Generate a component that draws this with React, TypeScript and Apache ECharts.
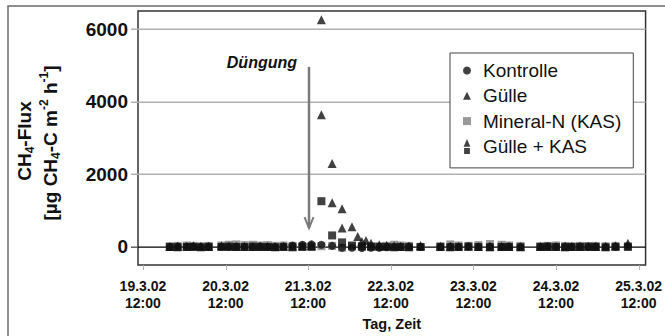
import { useEffect, useRef } from 'react';
import * as echarts from 'echarts';

// x values are days counted from 19.3.02 12:00
const xTickDays = [0, 1, 2, 3, 4, 5, 6];
const xTickLabels = ['19.3.02\n12:00', '20.3.02\n12:00', '21.3.02\n12:00', '22.3.02\n12:00', '23.3.02\n12:00', '24.3.02\n12:00', '25.3.02\n12:00'];
const yTicks = [0, 2000, 4000, 6000];

const times = [
  0.325, 0.42, 0.53, 0.61, 0.7, 0.795, 0.95, 1.04, 1.13, 1.23, 1.33, 1.42, 1.51, 1.6, 1.7, 1.81, 1.93,
  2.04, 2.16, 2.29, 2.41, 2.53, 2.65, 2.76, 2.86, 2.95, 3.04, 3.12, 3.22, 3.36, 3.6, 3.72, 3.82, 3.94,
  4.06, 4.2, 4.34, 4.43, 4.57, 4.81, 4.9, 5.0, 5.11, 5.19, 5.29, 5.39, 5.48, 5.6, 5.72, 5.87,
];

const kontrolle = [
  0, 10, 5, 10, 0, 10, 5, 0, 10, 5, 0, 10, 5, 0, 10, 40, 60,
  70, 60, 30, -20, -20, -30, -20, -20, -10, 0, 0, 10, 0, 0, 10, 0, 10,
  0, 10, 0, 10, 0, 0, 10, 0, 10, 0, 10, 0, 10, 0, 10, 20,
];

const guelle = [
  10, 20, 20, 30, 20, 10, 30, 20, 10, 20, 10, 20, 20, 10, 20, 20, 30,
  40, 3640, 2300, 1050, 555, 150, 100, 60, 50, 30, 20, 20, 40, 20, 10, 20, 20,
  10, 10, 20, 10, 10, 20, 10, 20, 10, 20, 10, 20, 10, 20, 30, 100,
];
// second Gülle readings at the same sampling times
const guelleReplicates: [number, number][] = [
  [2.16, 6260], [2.29, 1220], [2.41, 520], [2.6, 290], [2.7, 180],
];

const mineral = [
  20, 30, 40, 30, 20, 30, 40, 60, 70, 50, 60, 40, 50, 30, 40, 30, 20,
  30, 20, 30, -20, 10, 0, 10, 20, 30, 60, 40, 30, 0, 20, 70, 40, 30,
  50, 80, 60, 40, 30, 20, 30, 40, 30, 20, 30, 20, 30, 20, 30, 20,
];

const guelleKas = [
  0, -10, 0, 0, -10, 0, 0, 10, 0, 0, 10, 0, 0, -10, 0, -10, 0,
  0, 1260, 317, 125, 40, 20, 10, 0, 0, -10, 0, -10, 0, 0, -10, 0, 10,
  0, -10, 0, 0, -10, 0, 10, 0, -10, 0, 0, 10, 0, -10, 0, 0,
];

// fertilisation arrow (data coordinates)
const arrowDay = 2.01;
const arrowTop = 4960;
const arrowTip = 520;

const X_MIN = -0.06;
const X_MAX = 6.084;

const FONT = '"Liberation Sans", Arial, sans-serif';
const BLACK = '#111111';
const GRAY = '#808080';

function pairs(vals: number[]): [number, number][] {
  return vals.map((v, i) => [times[i], v]);
}

export default function App() {
  const ref = useRef<HTMLDivElement>(null);

  useEffect(() => {
    if (!ref.current) return;
    const chart = echarts.init(ref.current, null, { renderer: 'svg' });

    const option: any = {
      animation: false,
      backgroundColor: '#ffffff',
      grid: {
        left: 138,
        right: 17,
        top: 11,
        bottom: 62,
        show: true,
        borderColor: '#333',
        borderWidth: 1.5,
        backgroundColor: 'rgba(0,0,0,0)',
      },
      xAxis: {
        type: 'value',
        min: X_MIN,
        max: X_MAX,
        name: 'Tag, Zeit',
        nameLocation: 'middle',
        nameGap: 47,
        nameTextStyle: { fontFamily: FONT, fontSize: 14.5, fontWeight: 'bold', color: BLACK },
        axisLine: { show: false },
        splitLine: { show: false },
        axisTick: { show: false },
        axisLabel: {
          customValues: xTickDays,
          formatter: (v: number) => {
            const i = xTickDays.indexOf(Math.round(v));
            return i >= 0 ? xTickLabels[i] : '';
          },
          fontFamily: FONT,
          fontSize: 14,
          fontWeight: 'bold',
          color: BLACK,
          lineHeight: 17,
          margin: 12,
          showMinLabel: true,
          showMaxLabel: true,
        },
      },
      yAxis: {
        type: 'value',
        min: -500,
        max: 6500,
        axisLine: { show: false },
        splitLine: { show: false },
        axisTick: { show: false },
        axisLabel: {
          customValues: yTicks,
          formatter: (v: number) => String(Math.round(v)),
          fontFamily: FONT,
          fontSize: 19,
          fontWeight: 'bold',
          color: BLACK,
          margin: 10,
        },
      },
      legend: {
        orient: 'vertical',
        left: 450,
        top: 53,
        z: 20,
        padding: [8, 12, 12, 13],
        itemGap: 6.3,
        itemWidth: 8,
        itemHeight: 15,
        borderColor: '#444',
        borderWidth: 1,
        backgroundColor: '#fff',
        textStyle: {
          fontFamily: FONT,
          fontSize: 19,
          color: BLACK,
          lineHeight: 18,
          padding: [0, 0, 0, 7],
        },
        data: [
          { name: 'Kontrolle', icon: 'circle' },
          { name: 'Gülle', icon: 'path://M4,0L8,8L0,8Z' },
          { name: 'Mineral-N (KAS)', icon: 'path://M0,0H8V8H0Z' },
          { name: 'Gülle + KAS', icon: 'path://M3.5,0L7,8L0,8Z M0.5,9.5H6.5V15.5H0.5Z' },
        ],
      },
      series: [
        {
          name: 'Mineral-N (KAS)',
          type: 'scatter',
          z: 3,
          symbol: 'rect',
          symbolSize: 8,
          itemStyle: { color: GRAY },
          data: pairs(mineral),
        },
        {
          name: 'Kontrolle',
          type: 'scatter',
          z: 4,
          symbol: 'circle',
          symbolSize: 8,
          itemStyle: { color: BLACK },
          data: pairs(kontrolle),
        },
        {
          name: 'Gülle',
          type: 'scatter',
          z: 5,
          symbol: 'triangle',
          symbolSize: 9,
          itemStyle: { color: BLACK },
          data: [...pairs(guelle), ...guelleReplicates],
        },
        {
          name: 'Gülle + KAS',
          type: 'scatter',
          z: 5,
          symbol: 'rect',
          symbolSize: 8,
          itemStyle: { color: BLACK },
          data: pairs(guelleKas),
        },
      ],
    };

    chart.setOption(option);

    const px = (x: number, y: number) => chart.convertToPixel({ gridIndex: 0 }, [x, y]) as number[];
    const top = px(arrowDay, arrowTop);
    const tip = px(arrowDay, arrowTip);
    const ax = top[0];
    const ay = top[1];
    const by = tip[1];
    const left = px(X_MIN, 0)[0];
    const right = px(X_MAX, 0)[0];
    const bottom = px(X_MIN, -500)[1];

    const gridEls: any[] = [];
    yTicks.forEach((v) => {
      const y = Math.round(px(X_MIN, v)[1]);
      const isZero = v === 0;
      // gridline / tick drawn as a thin filled band
      gridEls.push({
        type: 'rect', silent: true, z: 2,
        shape: { x: left - 7, y: y - 0.5, width: (isZero ? 7 : right - left + 7), height: 1.4 },
        style: { fill: isZero ? '#555' : '#b0b0b0', stroke: 'none' },
      });
    });
    const zeroY = Math.round(px(X_MIN, 0)[1]);
    gridEls.push({
      type: 'rect', silent: true, z: 2,
      shape: { x: left, y: zeroY - 0.6, width: right - left, height: 1.4 },
      style: { fill: '#000', stroke: 'none' },
    });
    xTickDays.forEach((d) => {
      const x = Math.round(px(d, 0)[0]) + 0.5;
      gridEls.push({
        type: 'line', silent: true, z: 2,
        shape: { x1: x, y1: bottom, x2: x, y2: bottom + 5 },
        style: { stroke: '#b0b0b0', lineWidth: 1 },
      });
    });

    const rich = {
      b: { fontFamily: FONT, fontSize: 19, fontWeight: 'bold', fill: BLACK, color: BLACK, lineHeight: 24 },
      sub: { fontFamily: FONT, fontSize: 12, fontWeight: 'bold', fill: BLACK, color: BLACK, verticalAlign: 'bottom', lineHeight: 12 },
      sup: { fontFamily: FONT, fontSize: 12, fontWeight: 'bold', fill: BLACK, color: BLACK, verticalAlign: 'top', lineHeight: 12 },
    };

    chart.setOption({
      graphic: [
        {
          type: 'rect',
          silent: true,
          shape: { x: 8, y: 6, width: 700, height: 400 },
          style: { fill: 'none', stroke: '#6a6a6a', lineWidth: 1.5 },
        },
        ...gridEls,
        {
          type: 'text',
          x: 24,
          y: 141,
          rotation: Math.PI / 2,
          style: {
            text: '{b|CH}{sub|4}{b|-Flux}',
            rich,
            align: 'center',
            verticalAlign: 'middle',
          },
        },
        {
          type: 'text',
          x: 50,
          y: 143,
          rotation: Math.PI / 2,
          style: {
            text: '{b|[µg CH}{sub|4}{b|-C m}{sup|-2}{b| h}{sup|-1}{b|]}',
            rich,
            align: 'center',
            verticalAlign: 'middle',
          },
        },
        {
          type: 'text',
          x: ax - 12,
          y: ay - 4,
          style: {
            text: 'Düngung',
            fontFamily: FONT,
            fontSize: 16,
            fontWeight: 'bold',
            fontStyle: 'italic',
            fill: BLACK,
            align: 'right',
            verticalAlign: 'middle',
          },
        },
        {
          type: 'line',
          silent: true,
          z: 6,
          shape: { x1: ax, y1: ay, x2: ax, y2: by },
          style: { stroke: '#7a7a7a', lineWidth: 2.5 },
        },
        {
          type: 'polyline',
          silent: true,
          z: 6,
          shape: { points: [[ax - 4.5, by - 11], [ax, by], [ax + 4.5, by - 11]] },
          style: { stroke: '#7a7a7a', lineWidth: 2, fill: 'none' },
        },
      ],
    });

    return () => chart.dispose();
  }, []);

  return (
    <div
      ref={ref}
      style={{ position: 'fixed', left: 0, top: 0, width: 665, height: 336, background: '#fff' }}
    />
  );
}
